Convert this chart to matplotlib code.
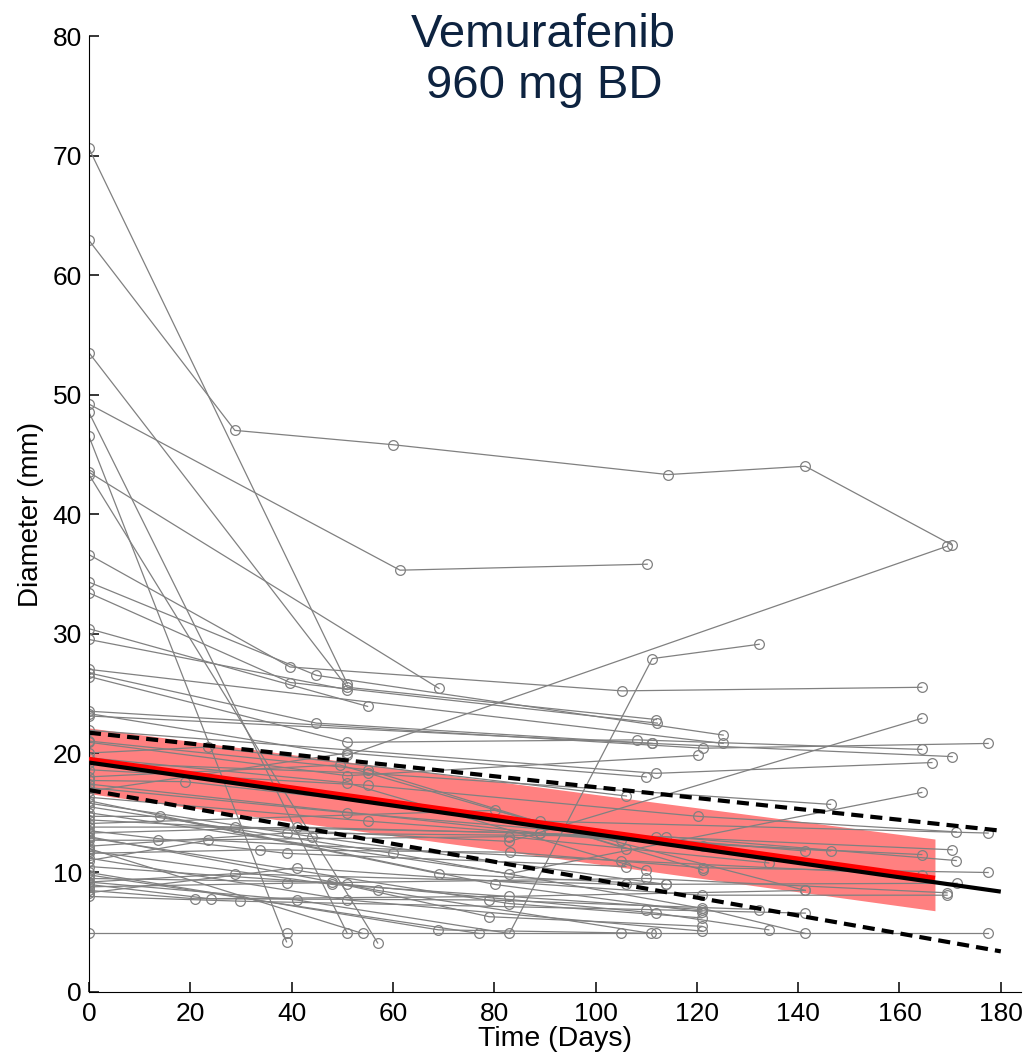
import matplotlib
matplotlib.use("Agg")
import matplotlib.pyplot as plt

plt.rcParams['font.family'] = ['Liberation Sans', 'DejaVu Sans']

# individual tumour diameters (day, mm) per patient
patients = [
    [(0, 70.6), (51, 25.8)],
    [(0, 62.9), (28.8, 47.0), (60, 45.8), (114.3, 43.3), (141.4, 44.0), (170.4, 37.4)],
    [(0, 53.5), (51, 25.5), (112, 22.8)],
    [(0, 49.2), (61.4, 35.3), (110.2, 35.8)],
    [(0, 48.5), (51, 4.9)],
    [(0, 46.5), (39, 4.2)],
    [(0, 43.5), (69.1, 25.4)],
    [(0, 43.3), (57, 4.1)],
    [(0, 36.6), (39.7, 27.2), (105.2, 25.2), (164.4, 25.5)],
    [(0, 34.3), (44.9, 26.5), (125.2, 21.5)],
    [(0, 33.4), (39.7, 25.9), (112.2, 22.5)],
    [(0, 30.4), (55, 23.9)],
    [(0, 29.5), (51, 25.3)],
    [(0, 27.0), (125.2, 20.8)],
    [(0, 26.7), (44.9, 22.5), (111.2, 20.8)],
    [(0, 26.4), (51, 20.9), (108.2, 21.1), (164.4, 20.3)],
    [(0, 9.2), (41, 7.7), (83, 4.9), (111.2, 27.9), (132.3, 29.1)],
    [(0, 23.5), (121.2, 20.4), (177.5, 20.8)],
    [(0, 23.1), (111.2, 20.8), (170.4, 19.7)],
    [(0, 23.3), (51, 19.8), (169.4, 37.3)],
    [(0, 21.9), (112, 18.3), (166.4, 19.2)],
    [(0, 20.9), (51, 18.1), (120.2, 19.8)],
    [(0, 20.0), (23.5, 20.5), (106.1, 16.4)],
    [(0, 19.2), (55, 18.3), (146.4, 15.7)],
    [(0, 18.6), (55, 17.3), (120.2, 14.7), (171.2, 13.4)],
    [(0, 17.7), (19, 17.6), (89, 14.3), (177.5, 13.3)],
    [(0, 17.1), (51, 15.0), (141.4, 11.8)],
    [(0, 16.3), (55, 14.3), (105, 12.7), (164.4, 11.5)],
    [(0, 15.0), (83, 9.9), (164.4, 16.7)],
    [(0, 14.4), (83, 12.6), (164.4, 22.9)],
    [(0, 13.8), (28.8, 13.8), (89, 13.3), (146.4, 11.8)],
    [(0, 13.3), (41, 13.8), (112, 13.0), (170.4, 11.9)],
    [(0, 12.7), (13.7, 12.7), (83, 13.0), (134.2, 10.8)],
    [(0, 12.2), (39, 13.3), (114, 13.0), (171.2, 11.0)],
    [(0, 11.6), (33.7, 11.9), (83.1, 11.7), (121.2, 10.4), (177.5, 10.0)],
    [(0, 11.0), (23.5, 12.7), (105, 11.0), (164.4, 9.8)],
    [(0, 9.2), (28.8, 9.9), (106, 9.0), (171.4, 9.1)],
    [(0, 8.8), (39, 9.1), (110, 9.5), (169.4, 8.3)],
    [(0, 8.3), (41, 10.4), (121, 8.1), (169.4, 8.1)],
    [(0, 4.9), (39, 4.9), (105, 4.9), (177.5, 4.9)],
    [(0, 8.5), (21, 7.8), (83, 8.0), (141.4, 8.5)],
    [(0, 9.0), (24, 7.8), (79, 7.7), (132.2, 6.9)],
    [(0, 8.0), (29.8, 7.6), (110, 6.9), (141.4, 6.6)],
    [(0, 9.5), (48, 9.2), (79, 6.3), (121, 5.5)],
    [(0, 10.5), (51, 9.0), (112, 6.6), (134.2, 5.2)],
    [(0, 11.2), (51, 7.7), (121, 5.1)],
    [(0, 14.7), (14, 14.7), (69.1, 9.9), (114, 9.0)],
    [(0, 13.0), (57, 8.5), (111, 4.9)],
    [(0, 12.0), (54, 4.9)],
    [(0, 15.5), (60, 11.6), (121, 7.0), (141.4, 4.9)],
    [(0, 10.0), (69, 5.2), (112, 4.9)],
    [(0, 9.8), (77, 4.9)],
    [(0, 16.8), (51, 20.0), (110, 18.0)],
    [(0, 18.0), (49.5, 19.0), (121.2, 10.2)],
    [(0, 17.4), (89, 13.3), (121.2, 12.2)],
    [(0, 16.0), (80.1, 9.0), (121, 6.7)],
    [(0, 12.9), (83, 7.4), (121, 6.2)],
    [(0, 14.1), (80.1, 15.2), (141.4, 8.5)],
    [(0, 21.0), (55, 18.6), (106, 12.0)],
    [(0, 19.6), (51, 17.5), (110, 10.2)],
    [(0, 15.8), (44, 13.0), (114, 9.0)],
    [(0, 13.5), (39, 11.6), (106, 10.5)],
    [(0, 11.8), (48, 9.0), (121, 6.9)],
]

# population model
band_days = [0, 167]
band_upper = [22.1, 12.8]
band_lower = [16.6, 6.8]
red_days = [0, 167]
red_mm = [19.45, 9.5]
fit_days = [0, 180]
fit_mm = [19.2, 8.4]
upper_mm = [21.7, 13.5]
lower_mm = [16.9, 3.4]

fig = plt.figure(figsize=(10.26, 10.63), dpi=100)
ax = fig.add_axes([0.0867, 0.0668, 0.9085, 0.8993])

ax.fill_between(band_days, band_lower, band_upper, color='#ff8080', lw=0, zorder=1)

for p in patients:
    d = [a for a, b in p]
    v = [b for a, b in p]
    ax.plot(d, v, color='#808080', lw=0.9, marker='o', ms=7, mfc='none',
            mec='#808080', mew=0.9, zorder=2)

ax.plot(red_days, red_mm, color='red', lw=4, zorder=3, solid_capstyle='butt')
ax.plot(fit_days, fit_mm, color='black', lw=3, zorder=4, solid_capstyle='butt')
ax.plot(fit_days, upper_mm, color='black', lw=3, ls=(0, (2.9, 1.7)), zorder=4)
ax.plot(fit_days, lower_mm, color='black', lw=3, ls=(0, (2.9, 1.7)), zorder=4)

ax.set_xlim(0, 184)
ax.set_ylim(0, 80)
ax.set_xticks(range(0, 181, 20))
ax.set_yticks(range(0, 81, 10))
ax.spines['top'].set_visible(False)
ax.spines['right'].set_visible(False)
ax.tick_params(direction='in', length=7, width=1.1, labelsize=19)
ax.tick_params(axis='x', pad=7)
ax.tick_params(axis='y', pad=5)
ax.set_xlabel('Time (Days)', fontsize=20.5, labelpad=0)
ax.set_ylabel('Diameter (mm)', fontsize=20, labelpad=6)

fig.text(0.53, 0.988, 'Vemurafenib\n960 mg BD', ha='center', va='top',
         fontsize=34, color='#0d2340', linespacing=1.2)

fig.savefig('out.png', dpi=100)
